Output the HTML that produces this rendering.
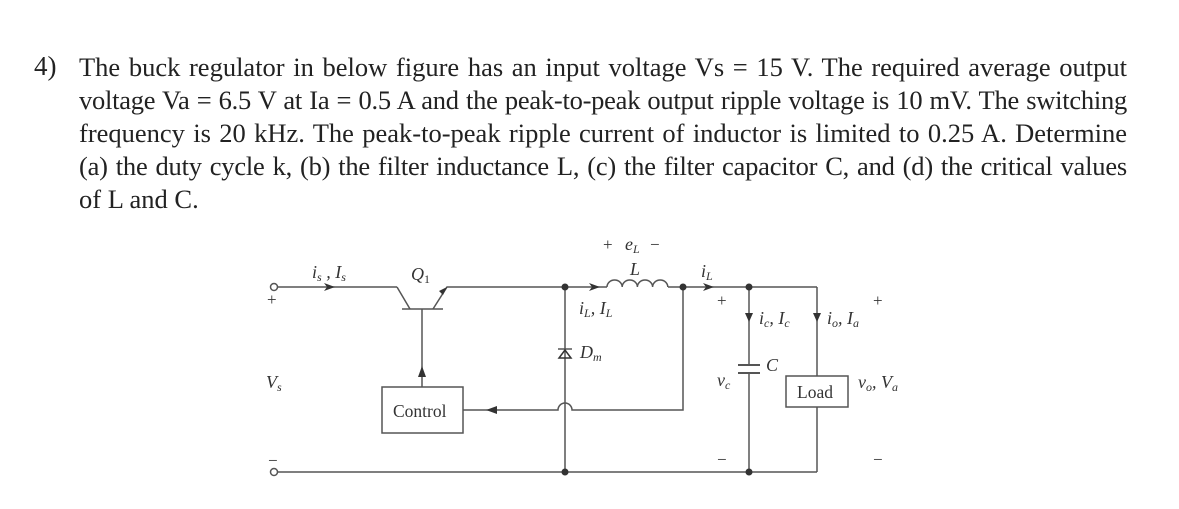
<!DOCTYPE html>
<html><head><meta charset="utf-8"><style>
body{margin:0;width:1179px;height:509px;background:#fff;position:relative;overflow:hidden;font-family:"Liberation Serif",serif;color:#222}
.num{position:absolute;left:34px;top:51px;font-size:27px}
.ln{position:absolute;left:79px;width:1048px;font-size:26.5px;line-height:33px;white-space:nowrap}
.j{text-align:justify;text-align-last:justify}
svg{position:absolute;left:0;top:0}
svg text{font-family:"Liberation Serif",serif;fill:#333}
</style></head><body>
<div class="num">4)</div>
<div class="ln j" style="top:51px;">The buck regulator in below figure has an input voltage Vs = 15 V. The required average output</div>
<div class="ln j" style="top:84px;letter-spacing:-0.25px;word-spacing:-2px">voltage Va = 6.5 V at Ia = 0.5 A and the peak-to-peak output ripple voltage is 10 mV. The switching</div>
<div class="ln j" style="top:117px">frequency is 20 kHz. The peak-to-peak ripple current of inductor is limited to 0.25 A. Determine</div>
<div class="ln j" style="top:150px;letter-spacing:-0.2px;word-spacing:-1px">(a) the duty cycle k, (b) the filter inductance L, (c) the filter capacitor C, and (d) the critical values</div>
<div class="ln" style="top:183px">of L and C.</div>
<svg width="1179" height="509" viewBox="0 0 1179 509">
<g stroke="#555" stroke-width="1.5" fill="none">
<circle cx="274" cy="287" r="3.5"/>
<circle cx="274" cy="472" r="3.5"/>
<line x1="278" y1="287" x2="397" y2="287"/>
<polyline points="397,287 410,309"/>
<line x1="402" y1="309" x2="443" y2="309"/>
<polyline points="433,309 447,287 607,287"/>
<line x1="422" y1="309" x2="422" y2="387"/>
<rect x="382" y="387" width="81" height="46"/>
<line x1="565" y1="287" x2="565" y2="472"/>
<path d="M463,410 H558 A7,7 0 0 1 572,410 H683 V287"/>
<path d="M607,287 a7.6,7 0 0 1 15.2,0 a7.6,7 0 0 1 15.2,0 a7.6,7 0 0 1 15.2,0 a7.6,7 0 0 1 15.2,0"/>
<line x1="668" y1="287" x2="817" y2="287"/>
<line x1="817" y1="287" x2="817" y2="376"/>
<rect x="786" y="376" width="62" height="31"/>
<line x1="817" y1="407" x2="817" y2="472"/>
<line x1="278" y1="472" x2="817" y2="472"/>
<line x1="749" y1="287" x2="749" y2="365"/>
<line x1="749" y1="373" x2="749" y2="472"/>
<line x1="738" y1="365" x2="760" y2="365" stroke-width="2"/>
<line x1="738" y1="373" x2="760" y2="373" stroke-width="2"/>
<line x1="558" y1="349" x2="572" y2="349"/>
</g>
<g fill="#333">
<circle cx="565" cy="287" r="3.5"/><circle cx="683" cy="287" r="3.5"/>
<circle cx="749" cy="287" r="3.5"/><circle cx="565" cy="472" r="3.5"/><circle cx="749" cy="472" r="3.5"/>
<polygon points="335,287 324,283 327,287 324,291"/>
<polygon points="447,287 439,291 443,295"/>
<polygon points="422,366 418,377 426,377"/>
<polygon points="486,410 497,406 497,414"/>
<polygon points="600,287 589,283 592,287 589,291"/>
<polygon points="714,287 703,283 706,287 703,291"/>
<polygon points="749,322 745,313 753,313"/>
<polygon points="817,322 813,313 821,313"/>
</g>
<polygon points="565,350 559,358 571,358" fill="none" stroke="#333" stroke-width="1.5"/>
<g font-size="18" font-style="italic">
<text x="312" y="278">i<tspan font-size="12" dy="3">s</tspan><tspan dy="-3"> , I</tspan><tspan font-size="12" dy="3">s</tspan></text>
<text x="411" y="280">Q<tspan font-size="12" dy="3" font-style="normal">1</tspan></text>
<text x="625" y="250">e<tspan font-size="12" dy="3">L</tspan></text>
<text x="630" y="275">L</text>
<text x="579" y="314">i<tspan font-size="12" dy="3">L</tspan><tspan dy="-3">, I</tspan><tspan font-size="12" dy="3">L</tspan></text>
<text x="580" y="358">D<tspan font-size="12" dy="3">m</tspan></text>
<text x="266" y="388">V<tspan font-size="12" dy="3">s</tspan></text>
<text x="701" y="277">i<tspan font-size="12" dy="3">L</tspan></text>
<text x="759" y="324">i<tspan font-size="12" dy="3">c</tspan><tspan dy="-3">, I</tspan><tspan font-size="12" dy="3">c</tspan></text>
<text x="827" y="324">i<tspan font-size="12" dy="3">o</tspan><tspan dy="-3">, I</tspan><tspan font-size="12" dy="3">a</tspan></text>
<text x="766" y="371">C</text>
<text x="717" y="386">v<tspan font-size="12" dy="3">c</tspan></text>
<text x="858" y="388">v<tspan font-size="12" dy="3">o</tspan><tspan dy="-3">, V</tspan><tspan font-size="12" dy="3">a</tspan></text>
</g>
<g font-size="17">
<text x="603" y="250">+</text><text x="650" y="250">−</text>
<text x="267" y="305">+</text><text x="268" y="466">−</text>
<text x="717" y="306">+</text><text x="717" y="465">−</text>
<text x="873" y="306">+</text><text x="873" y="465">−</text>
<text x="393" y="417" font-size="17.5">Control</text>
<text x="797" y="398" font-size="17.5">Load</text>
</g>
</svg>
</body></html>
